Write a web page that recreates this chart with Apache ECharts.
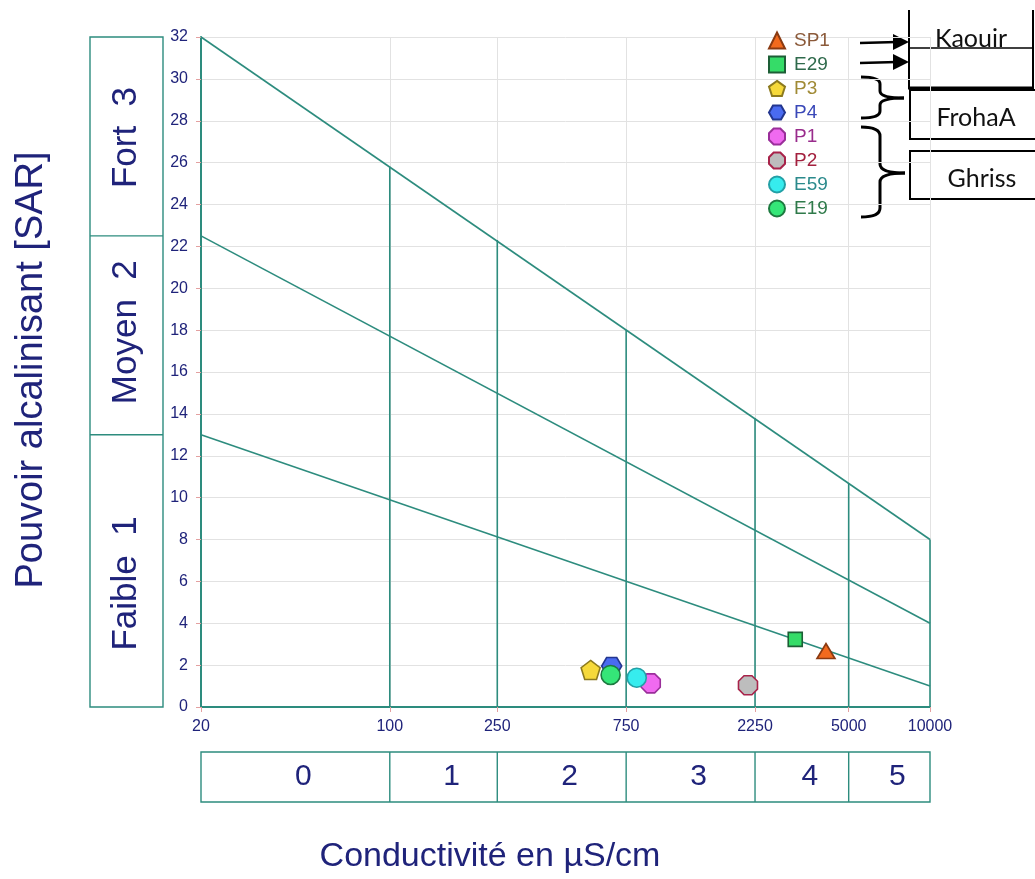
<!DOCTYPE html>
<html>
<head>
<meta charset="utf-8">
<script src="https://cdn.jsdelivr.net/npm/echarts@6/dist/echarts.min.js"></script>
<style>
html,body{margin:0;padding:0;background:#fff;}
#chart{width:1035px;height:879px;}
</style>
</head>
<body>
<div id="chart"></div>
<script>
// ---- data ----
var xTicks = [20, 100, 250, 750, 2250, 5000, 10000];
var yMin = 0, yMax = 32, yStep = 2;
// class boundaries on conductivity axis and their top (where they meet the upper line)
var ecBounds = [100, 250, 750, 2250, 5000, 10000];
var ecBoundTops = [25.8, 22.3, 18.0, 13.8, 10.7, 8.0];
var ecClassLabels = ['0', '1', '2', '3', '4', '5'];
// sodium hazard lines (endpoints at EC=20 and EC=10000)
var lineHigh = [[20, 32], [10000, 8]];
var lineMid = [[20, 22.5], [10000, 4]];
var lineLow = [[20, 13], [10000, 1]];
// SAR class boxes (left)
var sarBounds = [0, 13, 22.5, 32];
var sarClassLabels = ['Faible  1', 'Moyen  2', 'Fort  3'];
var sarLabelPos = [5.9, 17.9, 27.2];
// samples: [EC µS/cm, SAR]
var sampleNames = ['SP1', 'E29', 'P3', 'P4', 'P1', 'P2', 'E59', 'E19'];
var SP1 = [[4120, 2.67]];
var E29 = [[3170, 3.23]];
var P3 = [[554, 1.77]];
var P4 = [[663, 1.96]];
var P1 = [[925, 1.13]];
var P2 = [[2119, 1.04]];
var E59 = [[821, 1.40]];
var E19 = [[657, 1.53]];

// ---- styles ----
var teal = '#2d8c7e';
var navy = '#1f237a';
var tickPink = '#e3a0a0';
var gridGray = '#e2e2e2';

var pent = 'path://M0,-10 L9.51,-3.09 L5.88,8.09 L-5.88,8.09 L-9.51,-3.09 Z';
var hexa = 'path://M-10,0 L-5,-8.66 L5,-8.66 L10,0 L5,8.66 L-5,8.66 Z';
var octa = 'path://M-4.14,-10 L4.14,-10 L10,-4.14 L10,4.14 L4.14,10 L-4.14,10 L-10,4.14 L-10,-4.14 Z';

var sampleStyle = {
  SP1: {data: SP1, symbol: 'triangle', size: [18, 15], fill: '#f26a1e', stroke: '#8a3a12', text: '#8b5a3a'},
  E29: {data: E29, symbol: 'rect', size: 14, fill: '#35dc68', stroke: '#1d5e36', text: '#2f6a4c'},
  P3: {data: P3, symbol: pent, size: 19, fill: '#f6d93a', stroke: '#8c7a1e', text: '#a08a35'},
  P4: {data: P4, symbol: hexa, size: [20, 17], fill: '#4a6bf0', stroke: '#23368f', text: '#3a48b8'},
  P1: {data: P1, symbol: octa, size: 19, fill: '#f06af0', stroke: '#9a2f9a', text: '#992c8c'},
  P2: {data: P2, symbol: octa, size: 19, fill: '#bdbdbd', stroke: '#a8234a', text: '#a3203e'},
  E59: {data: E59, symbol: 'circle', size: 19, fill: '#36ecee', stroke: '#23a0a6', text: '#2b8a8c'},
  E19: {data: E19, symbol: 'circle', size: 19, fill: '#35e678', stroke: '#1d7a40', text: '#2f7a4a'}
};

var chart = echarts.init(document.getElementById('chart'), null, {renderer: 'canvas'});

var series = [];
// hazard lines
[lineHigh, lineMid, lineLow].forEach(function (l) {
  series.push({type: 'line', xAxisIndex: 0, yAxisIndex: 0, data: l, symbol: 'none',
    lineStyle: {color: teal, width: 1.6}, silent: true, z: 3});
});
// class boundaries
ecBounds.forEach(function (v, i) {
  series.push({type: 'line', xAxisIndex: 0, yAxisIndex: 0, data: [[v, 0], [v, ecBoundTops[i]]], symbol: 'none',
    lineStyle: {color: teal, width: 1.6}, silent: true, z: 3});
});
// bottom box dividers & labels
ecBounds.slice(0, -1).forEach(function (v) {
  series.push({type: 'line', xAxisIndex: 1, yAxisIndex: 1, data: [[v, 0], [v, 1]], symbol: 'none',
    lineStyle: {color: teal, width: 1.4}, silent: true});
});
var ecLabelData = ecClassLabels.map(function (t, i) {
  return {name: t, value: [Math.sqrt(xTicks[i] * xTicks[i + 1]), 0.5]};
});
series.push({type: 'scatter', xAxisIndex: 1, yAxisIndex: 1, data: ecLabelData, symbolSize: 1,
  itemStyle: {color: 'rgba(0,0,0,0)', opacity: 1}, silent: true,
  label: {show: true, position: 'inside', formatter: '{b}', color: navy, fontSize: 30,
    fontFamily: 'Liberation Sans', offset: [8, 0]}});
// left box dividers & labels
sarBounds.slice(1, -1).forEach(function (v) {
  series.push({type: 'line', xAxisIndex: 2, yAxisIndex: 2, data: [[0, v], [1, v]], symbol: 'none',
    lineStyle: {color: teal, width: 1.4}, silent: true});
});
var sarLabelData = sarClassLabels.map(function (t, i) {
  return {name: t, value: [0.5, sarLabelPos[i]]};
});
series.push({type: 'scatter', xAxisIndex: 2, yAxisIndex: 2, data: sarLabelData, symbolSize: 1,
  itemStyle: {color: 'rgba(0,0,0,0)', opacity: 1}, silent: true,
  label: {show: true, position: 'inside', formatter: '{b}', color: navy, fontSize: 35, rotate: 90,
    fontFamily: 'Liberation Sans'}});
// samples
sampleNames.forEach(function (n) {
  var s = sampleStyle[n];
  series.push({type: 'scatter', name: n, xAxisIndex: 0, yAxisIndex: 0, data: s.data,
    symbol: s.symbol, symbolSize: s.size, z: 5,
    itemStyle: {color: s.fill, borderColor: s.stroke, borderWidth: 1.6, opacity: 1}});
});

// braces helper
function brace(x0, xm, xt, y0, ym, y1, r) {
  var st = {stroke: '#000', lineWidth: 3, fill: null};
  return [
    {type: 'bezierCurve', shape: {x1: x0, y1: y0, x2: xm, y2: y0 + r, cpx1: xm, cpy1: y0}, style: st},
    {type: 'line', shape: {x1: xm, y1: y0 + r, x2: xm, y2: ym - r}, style: st},
    {type: 'bezierCurve', shape: {x1: xm, y1: ym - r, x2: xt, y2: ym, cpx1: xm, cpy1: ym}, style: st},
    {type: 'bezierCurve', shape: {x1: xt, y1: ym, x2: xm, y2: ym + r, cpx1: xm, cpy1: ym}, style: st},
    {type: 'line', shape: {x1: xm, y1: ym + r, x2: xm, y2: y1 - r}, style: st},
    {type: 'bezierCurve', shape: {x1: xm, y1: y1 - r, x2: x0, y2: y1, cpx1: xm, cpy1: y1}, style: st}
  ];
}
var annFont = 'Lato';
var graphics = [
  // titles
  {type: 'text', x: 32, y: 370, rotation: Math.PI / 2,
    style: {text: 'Pouvoir alcalinisant [SAR]', fill: navy, font: '38px "Liberation Sans"', align: 'center', verticalAlign: 'middle'}},
  {type: 'text', x: 490, y: 857,
    style: {text: 'Conductivité en µS/cm', fill: navy, font: '34px "Liberation Sans"', align: 'center', verticalAlign: 'middle'}},
  // Kaouir box
  {type: 'text', x: 971, y: 51, style: {text: 'Kaouir', fill: '#111', font: '25px ' + annFont, align: 'center', verticalAlign: 'bottom'}},
  {type: 'line', shape: {x1: 909, y1: 10, x2: 909, y2: 88}, style: {stroke: '#000', lineWidth: 2}},
  {type: 'line', shape: {x1: 1033, y1: 10, x2: 1033, y2: 88}, style: {stroke: '#000', lineWidth: 2}},
  {type: 'line', shape: {x1: 909, y1: 48, x2: 1033, y2: 48}, style: {stroke: '#000', lineWidth: 1.5}},
  {type: 'line', shape: {x1: 908, y1: 88, x2: 1034, y2: 88}, style: {stroke: '#000', lineWidth: 3}},
  // FrohaA box
  {type: 'rect', shape: {x: 910, y: 90, width: 135, height: 49}, style: {stroke: '#000', lineWidth: 2, fill: '#fff'}},
  {type: 'text', x: 976, y: 118, style: {text: 'FrohaA', fill: '#111', font: '25px ' + annFont, align: 'center', verticalAlign: 'middle'}},
  // Ghriss box
  {type: 'rect', shape: {x: 910, y: 151, width: 135, height: 48}, style: {stroke: '#000', lineWidth: 2, fill: '#fff'}},
  {type: 'text', x: 982, y: 179, style: {text: 'Ghriss', fill: '#111', font: '25px ' + annFont, align: 'center', verticalAlign: 'middle'}},
  // arrows
  {type: 'line', shape: {x1: 860, y1: 43, x2: 897, y2: 42}, style: {stroke: '#000', lineWidth: 2.5}},
  {type: 'polygon', shape: {points: [[893, 34], [909, 42], [893, 50]]}, style: {fill: '#000'}},
  {type: 'line', shape: {x1: 860, y1: 63, x2: 897, y2: 62}, style: {stroke: '#000', lineWidth: 2.5}},
  {type: 'polygon', shape: {points: [[893, 54], [909, 62], [893, 70]]}, style: {fill: '#000'}}
].concat(brace(861, 880, 904, 77, 98, 118, 7)).concat(brace(861, 880, 905, 127, 173, 217, 9));

var option = {
  backgroundColor: '#ffffff',
  animation: false,
  grid: [
    {left: 201, right: 105, top: 37, bottom: 172},
    {left: 201, right: 105, top: 752, height: 50, show: true, borderColor: teal, borderWidth: 1.4, backgroundColor: 'transparent'},
    {left: 90, width: 73, top: 37, bottom: 172, show: true, borderColor: teal, borderWidth: 1.4, backgroundColor: 'transparent'}
  ],
  legend: {
    orient: 'vertical', left: 763, top: 26, itemGap: 5, itemWidth: 16, itemHeight: 16,
    data: sampleNames.map(function (n) {
      return {name: n, textStyle: {color: sampleStyle[n].text}};
    }),
    textStyle: {fontSize: 19, fontFamily: 'Liberation Sans', padding: [0, 0, 0, 4]}
  },
  xAxis: [
    {type: 'log', logBase: 10, min: 20, max: 10000, gridIndex: 0,
      axisLine: {show: true, onZero: false, lineStyle: {color: teal, width: 2}},
      axisTick: {show: true, customValues: xTicks, length: 5, lineStyle: {color: tickPink}},
      axisLabel: {customValues: xTicks, color: navy, fontSize: 16, fontFamily: 'Liberation Sans', margin: 12,
        formatter: function (v) { return String(Math.round(v)); }},
      splitLine: {show: true, lineStyle: {color: gridGray}},
      minorSplitLine: {show: false}},
    {type: 'log', logBase: 10, min: 20, max: 10000, gridIndex: 1, show: false},
    {type: 'value', min: 0, max: 1, gridIndex: 2, show: false}
  ],
  yAxis: [
    {type: 'value', min: yMin, max: yMax, interval: yStep, gridIndex: 0,
      axisLine: {show: true, onZero: false, lineStyle: {color: teal, width: 2}},
      axisTick: {show: true, length: 5, lineStyle: {color: tickPink}},
      axisLabel: {color: navy, fontSize: 16, fontFamily: 'Liberation Sans', margin: 13},
      splitLine: {show: true, lineStyle: {color: gridGray}}},
    {type: 'value', min: 0, max: 1, gridIndex: 1, show: false},
    {type: 'value', min: yMin, max: yMax, gridIndex: 2, show: false}
  ],
  series: series,
  graphic: {elements: graphics}
};
chart.setOption(option);
</script>
</body>
</html>
